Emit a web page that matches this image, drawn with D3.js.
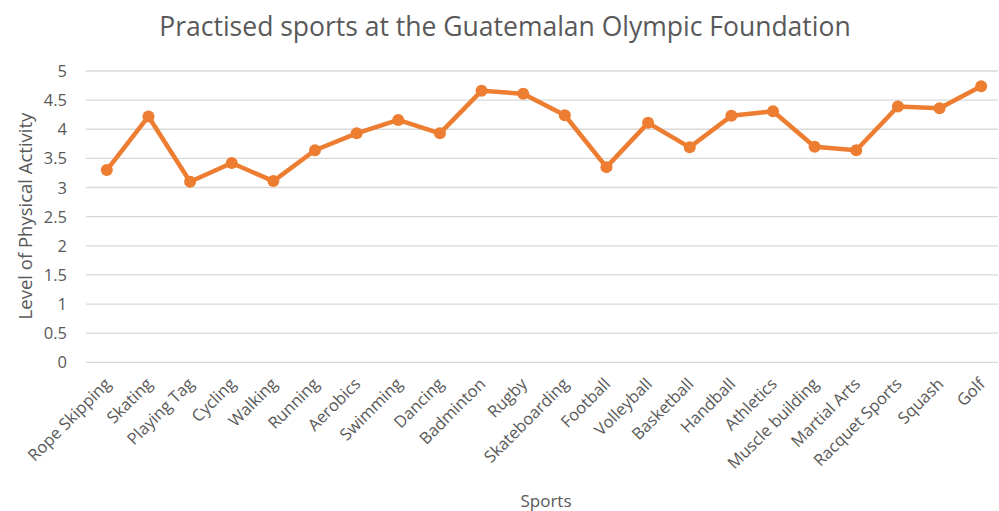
<!DOCTYPE html>
<head>
  <meta charset="utf-8">
  <style>
    body { margin: 0; background: #fff; }
    text { font-family: 'Open Sans', sans-serif; fill: #595959; }
  </style>
  <script src="https://d3js.org/d3.v7.min.js"></script>
</head>
<body>
  <script>
    const sports = ['Rope Skipping', 'Skating', 'Playing Tag', 'Cycling', 'Walking', 'Running',
      'Aerobics', 'Swimming', 'Dancing', 'Badminton', 'Rugby', 'Skateboarding', 'Football',
      'Volleyball', 'Basketball', 'Handball', 'Athletics', 'Muscle building', 'Martial Arts',
      'Racquet Sports', 'Squash', 'Golf'];
    const activity = [3.30, 4.22, 3.10, 3.42, 3.11, 3.64, 3.93, 4.16, 3.93, 4.66, 4.61, 4.24,
      3.35, 4.11, 3.69, 4.23, 4.31, 3.70, 3.64, 4.39, 4.36, 4.74];
    const yTicks = [0, 0.5, 1, 1.5, 2, 2.5, 3, 3.5, 4, 4.5, 5];

    const w = 999, h = 511;
    const plotLeft = 86, plotRight = 1002, plotTop = 71, plotBottom = 362.3;

    const svg = d3.select('body').append('svg')
      .attr('width', w)
      .attr('height', h);

    const x = d3.scaleBand().domain(sports).range([plotLeft, plotRight]);
    const y = d3.scaleLinear().domain([0, 5]).range([plotBottom, plotTop]);

    // gridlines
    svg.append('g').selectAll('line')
      .data(yTicks)
      .enter()
      .append('line')
      .attr('x1', plotLeft)
      .attr('x2', 998)
      .attr('y1', d => y(d))
      .attr('y2', d => y(d))
      .attr('stroke', '#d9d9d9')
      .attr('stroke-width', 1.3);

    // y tick labels
    svg.append('g').selectAll('text')
      .data(yTicks)
      .enter()
      .append('text')
      .text(d => d)
      .attr('x', 67)
      .attr('y', d => y(d) + 6)
      .attr('text-anchor', 'end')
      .attr('font-size', '16.5px');

    // x labels
    svg.append('g').selectAll('text')
      .data(sports)
      .enter()
      .append('text')
      .text(d => d)
      .attr('text-anchor', 'end')
      .attr('font-size', '16.5px')
      .attr('transform', d => `translate(${x(d) + x.bandwidth() / 2 + 5},${385}) rotate(-45)`);

    const line = d3.line()
      .x((d, i) => x(sports[i]) + x.bandwidth() / 2)
      .y(d => y(d));

    svg.append('path')
      .datum(activity)
      .attr('d', line)
      .attr('fill', 'none')
      .attr('stroke', '#ED7D31')
      .attr('stroke-width', 4.5)
      .attr('stroke-linejoin', 'round');

    svg.append('g').selectAll('circle')
      .data(activity)
      .enter()
      .append('circle')
      .attr('cx', (d, i) => x(sports[i]) + x.bandwidth() / 2)
      .attr('cy', d => y(d))
      .attr('r', 6)
      .attr('fill', '#ED7D31');

    svg.append('text')
      .text('Practised sports at the Guatemalan Olympic Foundation')
      .attr('x', 505)
      .attr('y', 36)
      .attr('text-anchor', 'middle')
      .attr('font-size', '26.5px');

    svg.append('text')
      .text('Level of Physical Activity')
      .attr('transform', 'translate(32,216) rotate(-90)')
      .attr('text-anchor', 'middle')
      .attr('font-size', '18.5px');

    svg.append('text')
      .text('Sports')
      .attr('x', 546)
      .attr('y', 507)
      .attr('text-anchor', 'middle')
      .attr('font-size', '17px');
  </script>
</body>
